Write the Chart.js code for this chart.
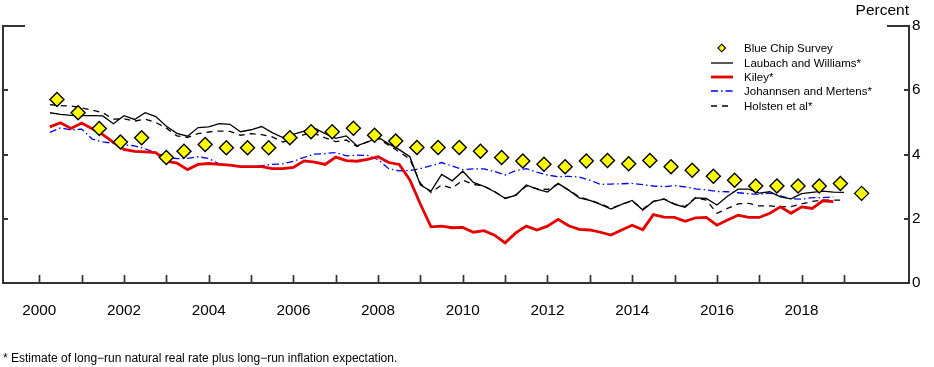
<!DOCTYPE html>
<html>
<head>
<meta charset="utf-8">
<script src="https://cdn.jsdelivr.net/npm/chart.js@4.4.1/dist/chart.umd.min.js"></script>
<style>
  body { margin: 0; background: #fff; }
  #wrap { position: relative; width: 934px; height: 367px; font-family: "Liberation Sans", Arial, sans-serif; color: #000; }
  #unit { position: absolute; right: 25px; top: 1px; font-size: 15.5px; line-height: normal; }
  #legend { position: absolute; left: 708px; top: 41px; font-size: 11.5px; }
  .row { height: 14.4px; display: flex; align-items: center; white-space: nowrap; }
  .row svg { width: 28px; height: 12px; margin-right: 8px; flex: none; }
  #note { position: absolute; left: 3px; top: 351px; font-size: 12px; line-height: normal; white-space: nowrap; }
</style>
</head>
<body>
<div id="wrap">
  <canvas id="c" width="934" height="367"></canvas>
  <div id="unit">Percent</div>
  <div id="legend"></div>
  <div id="note">* Estimate of long−run natural real rate plus long−run inflation expectation.</div>
</div>
<script>
// Tick positions
const yearTicks = [2000, 2001, 2002, 2003, 2004, 2005, 2006, 2007, 2008, 2009,
  2010, 2011, 2012, 2013, 2014, 2015, 2016, 2017, 2018, 2019];
const yearLabels = [2000, 2002, 2004, 2006, 2008, 2010, 2012, 2014, 2016, 2018];
const percentTicks = [0, 2, 4, 6, 8];

// Blue Chip survey (semi-annual)
const blueChipDates = ['2000-06', '2000-12', '2001-06', '2001-12', '2002-06', '2003-01', '2003-06', '2003-12',
  '2004-06', '2004-12', '2005-06', '2005-12', '2006-06', '2006-12', '2007-06', '2007-12',
  '2008-06', '2008-12', '2009-06', '2009-12', '2010-06', '2010-12', '2011-06', '2011-12',
  '2012-06', '2012-12', '2013-06', '2013-12', '2014-06', '2014-12', '2015-06', '2015-12',
  '2016-06', '2016-12', '2017-06', '2017-12', '2018-06', '2018-12', '2019-06'];
const blueChip = [5.71, 5.30, 4.81, 4.39, 4.52, 3.91, 4.10, 4.31,
  4.21, 4.21, 4.21, 4.52, 4.71, 4.71, 4.82, 4.60,
  4.42, 4.22, 4.22, 4.22, 4.10, 3.91, 3.80, 3.70,
  3.62, 3.80, 3.81, 3.71, 3.81, 3.62, 3.51, 3.32,
  3.20, 3.02, 3.02, 3.02, 3.02, 3.10, 2.79];

// Quarterly model estimates, starting 2000Q1
const quarters = [];
for (let y = 2000; y <= 2018; y++) {
  for (let q = 1; q <= 4; q++) quarters.push(y + 'Q' + q);
}

const laubachWilliams = [5.30, 5.25, 5.22, 5.21, 5.21, 5.20, 4.96, 5.21, 5.09, 5.30,
  5.18, 4.88, 4.66, 4.57, 4.84, 4.86, 4.96, 4.94, 4.71, 4.77,
  4.87, 4.68, 4.53, 4.63, 4.73, 4.82, 4.65, 4.50, 4.58, 4.27,
  4.39, 4.54, 4.33, 4.15, 3.93, 3.05, 2.86, 3.38, 3.18, 3.48,
  3.13, 3.01, 2.84, 2.64, 2.73, 3.05, 2.92, 2.83, 3.10, 2.89,
  2.65, 2.57, 2.45, 2.30, 2.45, 2.57, 2.27, 2.54, 2.61, 2.45,
  2.36, 2.65, 2.63, 2.43, 2.70, 2.92, 2.92, 2.80, 2.84, 2.68,
  2.62, 2.78, 2.82, 2.86, 2.83, 2.82];

const kiley = [4.86, 4.99, 4.81, 4.98, 4.80, 4.62, 4.38, 4.16, 4.10, 4.08,
  4.06, 3.79, 3.73, 3.53, 3.69, 3.72, 3.69, 3.67, 3.62, 3.62,
  3.62, 3.56, 3.56, 3.60, 3.80, 3.76, 3.69, 3.92, 3.81, 3.79,
  3.85, 3.93, 3.75, 3.69, 3.21, 2.45, 1.75, 1.77, 1.72, 1.73,
  1.58, 1.63, 1.49, 1.25, 1.56, 1.77, 1.65, 1.77, 1.98, 1.78,
  1.67, 1.65, 1.58, 1.49, 1.65, 1.80, 1.66, 2.13, 2.05, 2.04,
  1.92, 2.03, 2.04, 1.80, 1.96, 2.11, 2.04, 2.04, 2.17, 2.37,
  2.17, 2.37, 2.32, 2.56, 2.53];

const johannsenMertens = [4.69, 4.83, 4.76, 4.79, 4.48, 4.39, 4.35, 4.30, 4.27, 4.18,
  4.05, 3.92, 3.87, 3.88, 3.93, 3.88, 3.70, 3.67, 3.63, 3.63,
  3.65, 3.69, 3.71, 3.79, 3.91, 4.01, 4.03, 4.06, 3.96, 3.98,
  3.97, 3.84, 3.56, 3.49, 3.50, 3.56, 3.65, 3.75, 3.64, 3.53,
  3.55, 3.55, 3.47, 3.36, 3.50, 3.56, 3.45, 3.36, 3.31, 3.32,
  3.30, 3.20, 3.07, 3.08, 3.09, 3.10, 3.06, 3.02, 3.00, 3.03,
  2.99, 2.93, 2.90, 2.85, 2.84, 2.81, 2.78, 2.76, 2.80, 2.71,
  2.62, 2.61, 2.66, 2.66, 2.68];

const holsten = [5.55, 5.52, 5.51, 5.45, 5.38, 5.30, 5.10, 5.11, 5.04, 5.10,
  5.00, 4.82, 4.58, 4.53, 4.65, 4.70, 4.73, 4.72, 4.60, 4.65,
  4.62, 4.55, 4.39, 4.48, 4.62, 4.65, 4.52, 4.40, 4.45, 4.25,
  4.39, 4.50, 4.29, 4.08, 3.86, 3.10, 2.82, 3.05, 2.95, 3.20,
  3.07, 3.02, 2.85, 2.63, 2.74, 3.02, 2.94, 2.91, 3.08, 2.90,
  2.68, 2.58, 2.47, 2.32, 2.45, 2.55, 2.30, 2.54, 2.62, 2.46,
  2.38, 2.66, 2.58, 2.17, 2.32, 2.46, 2.48, 2.40, 2.40, 2.37,
  2.38, 2.46, 2.54, 2.58, 2.58, 2.58];

// dates -> decimal years (quarters plotted at quarter end)
function quarterToYear(s) {
  return parseInt(s.slice(0, 4)) + parseInt(s.slice(5)) / 4;
}
function monthToYear(s) {
  return parseInt(s.slice(0, 4)) + (parseInt(s.slice(5)) - 1) / 12;
}
function quarterly(values) {
  return values.map((v, i) => ({ x: quarterToYear(quarters[i]), y: v }));
}

const datasets = [
  {
    label: 'Blue Chip Survey',
    data: blueChip.map((v, i) => ({ x: monthToYear(blueChipDates[i]), y: v })),
    showLine: false,
    pointStyle: 'rectRot',
    pointRadius: 7,
    pointBackgroundColor: '#ffff00',
    pointBorderColor: '#000',
    pointBorderWidth: 1.4,
    borderColor: '#000',
    backgroundColor: '#ffff00'
  },
  {
    label: 'Laubach and Williams*',
    data: quarterly(laubachWilliams),
    borderColor: '#000',
    borderWidth: 1.3,
    pointRadius: 0
  },
  {
    label: 'Kiley*',
    data: quarterly(kiley),
    borderColor: '#e60000',
    borderWidth: 2.8,
    pointRadius: 0
  },
  {
    label: 'Johannsen and Mertens*',
    data: quarterly(johannsenMertens),
    borderColor: '#0000ff',
    borderWidth: 1.3,
    borderDash: [7, 3, 1.5, 3],
    pointRadius: 0
  },
  {
    label: 'Holsten et al*',
    data: quarterly(holsten),
    borderColor: '#000',
    borderWidth: 1.3,
    borderDash: [6, 5],
    pointRadius: 0
  }
];
datasets.forEach(d => { d.yAxisID = 'y'; d.xAxisID = 'x'; d.tension = 0; });

// inward tick marks on the frame
const innerTicks = {
  id: 'innerTicks',
  afterDraw(chart) {
    const { ctx, chartArea: a, scales: { x, y } } = chart;
    ctx.save();
    ctx.strokeStyle = '#333';
    ctx.lineWidth = 1.7;
    ctx.beginPath();
    x.ticks.forEach(t => {
      const px = Math.round(x.getPixelForValue(t.value)) + 0.5;
      ctx.moveTo(px, a.bottom);
      ctx.lineTo(px, a.bottom - 8);
    });
    ctx.stroke();
    ctx.lineWidth = 2;
    ctx.beginPath();
    y.ticks.forEach(t => {
      if (t.value === 0) return;
      const len = t.value === 8 ? 22 : 5;
      const py = Math.round(y.getPixelForValue(t.value));
      ctx.moveTo(a.left, py);
      ctx.lineTo(a.left + len, py);
      ctx.moveTo(a.right, py);
      ctx.lineTo(a.right - len, py);
    });
    ctx.stroke();
    ctx.restore();
  }
};

const tickFont = { family: '"Liberation Sans", Arial, sans-serif', size: 15.3 };

const chart = new Chart(document.getElementById('c'), {
  type: 'line',
  data: { datasets: datasets },
  options: {
    responsive: false,
    animation: false,
    devicePixelRatio: 1,
    layout: { autoPadding: false, padding: { left: 3, right: 13, top: 26, bottom: 48 } },
    plugins: { legend: { display: false }, tooltip: { enabled: false } },
    scales: {
      x: {
        type: 'linear',
        min: 1999.143,
        max: 2020.536,
        afterBuildTicks: s => { s.ticks = yearTicks.map(v => ({ value: v })); },
        afterFit: s => { s.height = 36; s.paddingLeft = 0; s.paddingRight = 0; },
        grid: { display: false, drawTicks: false },
        border: { color: '#333', width: 2 },
        ticks: {
          autoSkip: false,
          maxRotation: 0,
          padding: 19,
          color: '#000',
          font: tickFont,
          callback: v => yearLabels.includes(v) ? String(v) : ''
        }
      },
      y: {
        position: 'right',
        min: 0,
        max: 8,
        afterBuildTicks: s => { s.ticks = percentTicks.map(v => ({ value: v })); },
        afterFit: s => { s.width = 12; s.paddingTop = 0; s.paddingBottom = 0; },
        grid: { display: false, drawTicks: false },
        border: { color: '#333', width: 2 },
        ticks: { padding: 3, color: '#000', font: tickFont }
      },
      yl: {
        position: 'left',
        min: 0,
        max: 8,
        afterFit: s => { s.width = 0; s.paddingTop = 0; s.paddingBottom = 0; },
        grid: { display: false, drawTicks: false },
        border: { color: '#333', width: 2 },
        ticks: { display: false }
      }
    }
  },
  plugins: [innerTicks]
});

// legend built from the datasets
const legend = document.getElementById('legend');
const NS = 'http://www.w3.org/2000/svg';
chart.data.datasets.forEach(d => {
  const row = document.createElement('div');
  row.className = 'row';
  const svg = document.createElementNS(NS, 'svg');
  if (d.showLine === false) {
    const p = document.createElementNS(NS, 'polygon');
    const cx = 13.7, cy = 6, r = 3.8;
    p.setAttribute('points', [cx, cy - r, cx + r, cy, cx, cy + r, cx - r, cy].join(' '));
    p.setAttribute('fill', d.pointBackgroundColor);
    p.setAttribute('stroke', d.pointBorderColor);
    p.setAttribute('stroke-width', 1.1);
    svg.appendChild(p);
  } else {
    const l = document.createElementNS(NS, 'line');
    l.setAttribute('x1', 3); l.setAttribute('x2', 25);
    l.setAttribute('y1', 6); l.setAttribute('y2', 6);
    l.setAttribute('stroke', d.borderColor);
    l.setAttribute('stroke-width', d.borderWidth);
    if (d.borderDash) l.setAttribute('stroke-dasharray', d.borderDash.join(' '));
    svg.appendChild(l);
  }
  row.appendChild(svg);
  const span = document.createElement('span');
  span.textContent = d.label;
  row.appendChild(span);
  legend.appendChild(row);
});
</script>
</body>
</html>
